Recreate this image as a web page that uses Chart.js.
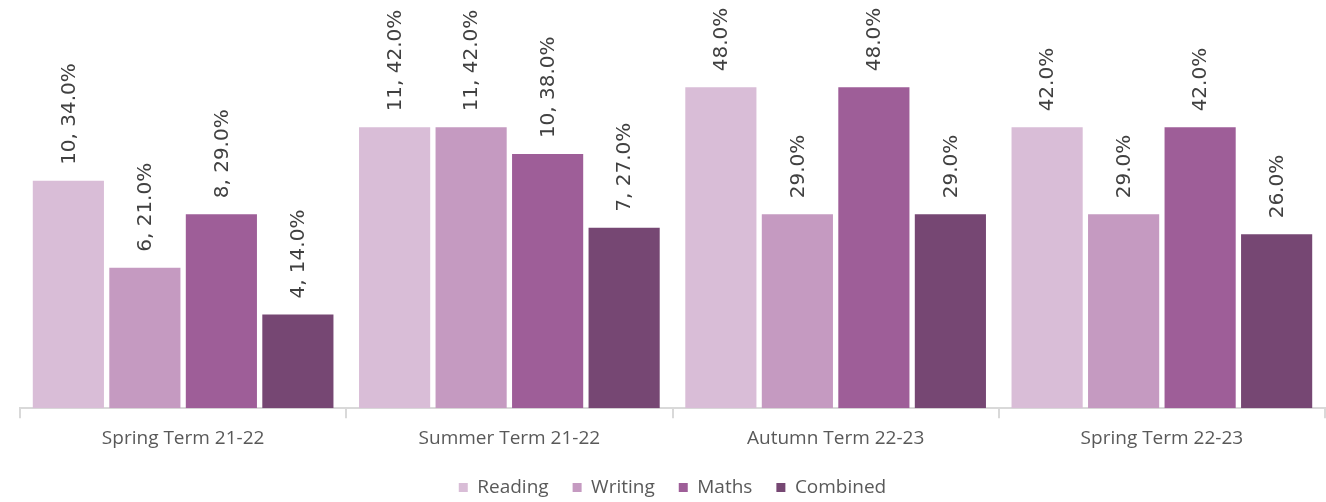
<!DOCTYPE html>
<html>
<head>
<meta charset="utf-8">
<script src="https://cdn.jsdelivr.net/npm/chart.js@4/dist/chart.umd.min.js"></script>
<style>
  html, body { margin: 0; padding: 0; background: #ffffff; }
  #wrap { width: 1326px; height: 502px; position: relative; }
</style>
</head>
<body>
<div id="wrap"><canvas id="c"></canvas></div>
<script>
const categories = ["Spring Term 21-22", "Summer Term 21-22", "Autumn Term 22-23", "Spring Term 22-23"];
const seriesNames = ["Reading", "Writing", "Maths", "Combined"];
const readingPct  = [34, 42, 48, 42];
const writingPct  = [21, 42, 29, 29];
const mathsPct    = [29, 38, 48, 42];
const combinedPct = [14, 27, 29, 26];
const readingCount  = [10, 11, null, null];
const writingCount  = [6, 11, null, null];
const mathsCount    = [8, 10, null, null];
const combinedCount = [4, 7, null, null];
const yMax = 60;

const colors = ["#D9BDD7", "#C59AC1", "#9E5E98", "#764773"];
const pctSeries = [readingPct, writingPct, mathsPct, combinedPct];
const countSeries = [readingCount, writingCount, mathsCount, combinedCount];

const datasets = seriesNames.map((name, i) => ({
  label: name,
  data: pctSeries[i],
  counts: countSeries[i],
  backgroundColor: colors[i],
  borderWidth: 0,
  categoryPercentage: 0.938,
  barPercentage: 0.93
}));

const labelPlugin = {
  id: 'rotLabels',
  afterDatasetsDraw(chart) {
    const ctx = chart.ctx;
    ctx.save();
    ctx.font = '20px "DejaVu Sans"';
    ctx.fillStyle = '#404040';
    ctx.textAlign = 'left';
    ctx.textBaseline = 'middle';
    chart.data.datasets.forEach((ds, di) => {
      const meta = chart.getDatasetMeta(di);
      meta.data.forEach((bar, j) => {
        const v = ds.data[j];
        const c = ds.counts[j];
        const txt = (c !== null && c !== undefined ? c + ', ' : '') + v.toFixed(1) + '%';
        ctx.save();
        ctx.translate(bar.x + 1, bar.y - 16);
        ctx.rotate(-Math.PI / 2);
        ctx.fillText(txt, 0, 0);
        ctx.restore();
      });
    });
    ctx.restore();
  }
};

new Chart(document.getElementById('c'), {
  type: 'bar',
  data: { labels: categories, datasets },
  options: {
    responsive: true,
    maintainAspectRatio: false,
    animation: false,
    layout: { padding: { top: 7, left: 20, right: 1, bottom: -5 } },
    plugins: {
      legend: {
        position: 'bottom',
        labels: {
          boxWidth: 9,
          boxHeight: 9,
          padding: 24,
          color: '#595959',
          font: { family: '"Open Sans"', size: 19 }
        }
      },
      tooltip: { enabled: false }
    },
    scales: {
      x: {
        afterFit(scale) { scale.height -= 5; },
        grid: {
          offset: true,
          drawOnChartArea: false,
          drawTicks: true,
          tickLength: 10,
          color: '#D9D9D9',
          lineWidth: 2
        },
        border: { display: true, color: '#D9D9D9', width: 2 },
        ticks: {
          color: '#595959',
          padding: 9,
          font: { family: '"Open Sans"', size: 19 }
        }
      },
      y: {
        display: false,
        min: 0,
        max: yMax
      }
    }
  },
  plugins: [labelPlugin]
});
</script>
</body>
</html>
